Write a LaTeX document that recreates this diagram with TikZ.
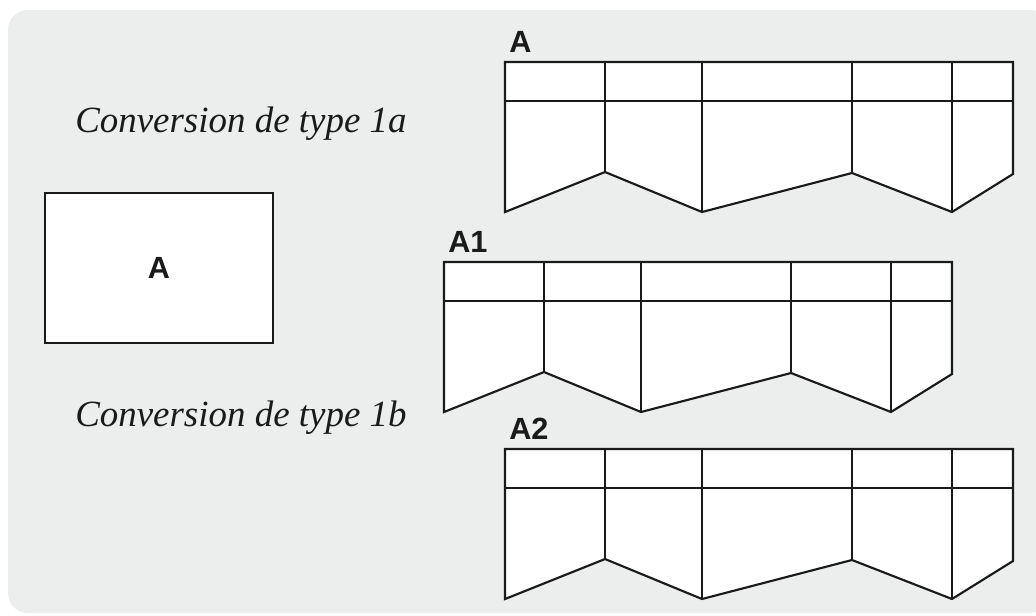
\documentclass[tikz,border=0pt]{standalone}
\usepackage{fontspec}
\setmainfont{Liberation Serif}
\newfontfamily\labelfont{Liberation Sans}
\definecolor{bggray}{RGB}{236,237,237}
\definecolor{ink}{RGB}{26,26,26}
\tikzset{
  panelline/.style={draw=ink, line width=1.6pt, line join=miter},
  panellabel/.style={anchor=base west, inner sep=0pt, font=\labelfont\bfseries\fontsize{23}{27}\selectfont, text=ink},
  convtext/.style={anchor=base west, inner sep=0pt, font=\itshape\fontsize{27.7}{33}\selectfont, text=ink},
}
\begin{document}
\begin{tikzpicture}[x=0.75pt, y=-0.75pt]
\useasboundingbox (0,0) rectangle (1036,615);
\clip (0,0) rectangle (1036,615);
\fill[bggray, rounded corners=15pt] (8,10) rectangle (1050,613);
% conversion texts
\node[convtext] (t1a) at (75,132) {Conversion de type 1a};
\node[convtext] (t1b) at (75,426) {Conversion de type 1b};
% original box
\node[panelline, fill=white, minimum width=171pt, minimum height=112.5pt, inner sep=0pt,
      font=\labelfont\bfseries\fontsize{23}{27}\selectfont, text=ink] (box) at (159,268) {A};
% panels
\foreach \dx/\dy/\lab in {0/0/A, -61/200/A1, 0/387/A2} {
  \begin{scope}[shift={(\dx,\dy)}]
    \node[panellabel] (lab\lab) at (509,52) {\lab};
    \filldraw[panelline, fill=white] (505,62) -- (1013,62) -- (1013,174) -- (952,212) -- (852,173)
       -- (702,212) -- (605,172) -- (505,212) -- cycle;
    \draw[panelline] (505,101) -- (1013,101);
    \draw[panelline] (605,62) -- (605,172);
    \draw[panelline] (702,62) -- (702,212);
    \draw[panelline] (852,62) -- (852,173);
    \draw[panelline] (952,62) -- (952,212);
  \end{scope}
}
\end{tikzpicture}
\end{document}
